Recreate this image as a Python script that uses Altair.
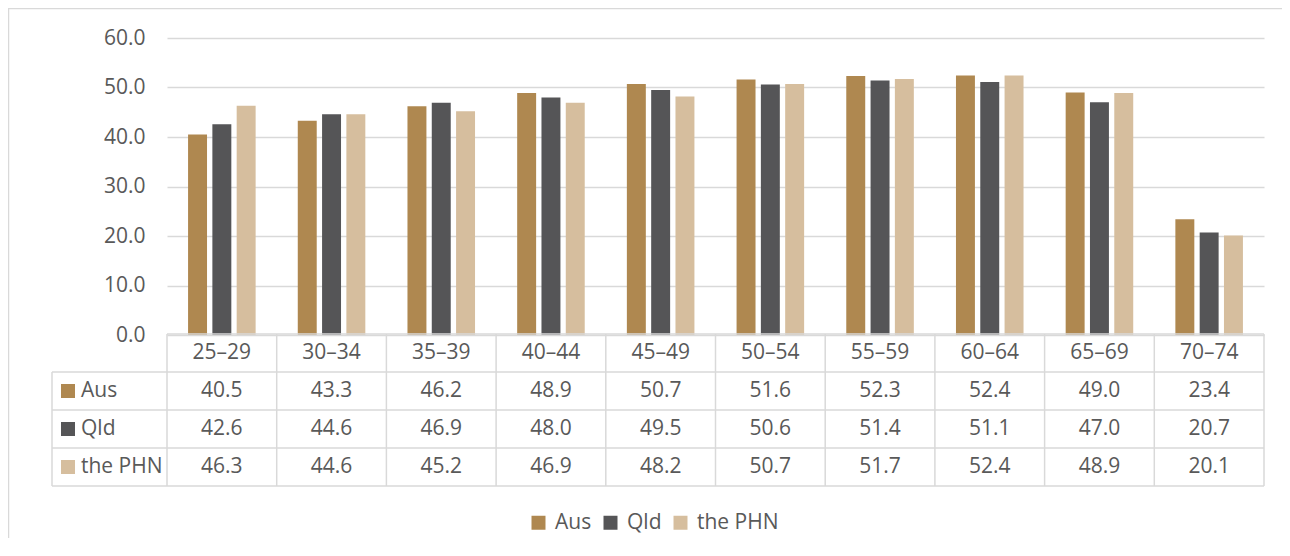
import altair as alt
import pandas as pd

cats = ["25–29", "30–34", "35–39", "40–44", "45–49", "50–54", "55–59", "60–64", "65–69", "70–74"]
series = ["Aus", "Qld", "the PHN"]
aus = [40.5, 43.3, 46.2, 48.9, 50.7, 51.6, 52.3, 52.4, 49.0, 23.4]
qld = [42.6, 44.6, 46.9, 48.0, 49.5, 50.6, 51.4, 51.1, 47.0, 20.7]
phn = [46.3, 44.6, 45.2, 46.9, 48.2, 50.7, 51.7, 52.4, 48.9, 20.1]
colors = ["#AF8850", "#555557", "#D6BE9E"]
y_ticks = [0, 10, 20, 30, 40, 50, 60]

W, H = 1097, 297
TXT = "#595959"
GRID = "#D9D9D9"
FS = 21
PAD_B = 203
PAD_R = 18

rows = []
for s_i, (s, vals) in enumerate(zip(series, [aus, qld, phn])):
    for c, v in zip(cats, vals):
        rows.append({"cat": c, "series": s, "value": v, "row": s_i + 1, "label": f"{v:.1f}"})
df = pd.DataFrame(rows)
hdr = pd.DataFrame({"cat": cats, "row": [0] * len(cats)})
ser = pd.DataFrame({"series": series, "row": [1, 2, 3]})
hlines_top = pd.DataFrame({"b": [-0.5]})
hlines = pd.DataFrame({"b": [0.5, 1.5, 2.5, 3.5]})
vspan = pd.DataFrame({"cat": cats, "y0": [-0.5] * len(cats), "y1": [3.5] * len(cats)})
one = pd.DataFrame({"y0": [-0.5], "y1": [3.5], "y0b": [0.5]})

xenc = alt.X("cat:N", sort=cats, scale=alt.Scale(paddingInner=0, paddingOuter=0), axis=None)
rowscale = alt.Scale(domain=[0, 3], range=[315, 429])
colorenc = alt.Color(
    "series:N", sort=series,
    scale=alt.Scale(domain=series, range=colors),
    legend=alt.Legend(orient="none", legendX=361, legendY=474, direction="horizontal",
                      title=None, symbolType="square", symbolSize=196, labelFontSize=FS,
                      labelColor=TXT, columnPadding=8, labelOffset=6, symbolStrokeWidth=0,
                      padding=0, symbolOpacity=1),
)

frame_top = alt.Chart(pd.DataFrame({"a": [0]})).mark_rule(color=GRID, strokeWidth=1.5).encode(
    x=alt.value(-159), x2=alt.value(W + PAD_R), y=alt.value(-29.5))
frame_left = alt.Chart(pd.DataFrame({"a": [0]})).mark_rule(color=GRID, strokeWidth=1.5).encode(
    x=alt.value(-158.5), y=alt.value(-30), y2=alt.value(H + PAD_B))

bars = alt.Chart(df).mark_bar().encode(
    x=xenc,
    xOffset=alt.XOffset("series:N", sort=series, scale=alt.Scale(paddingInner=0.22, paddingOuter=0.867)),
    y=alt.Y("value:Q", scale=alt.Scale(domain=[0, 60]),
            axis=alt.Axis(values=y_ticks, format=".1f", grid=True, domain=False, ticks=False,
                          labelPadding=22, title=None, gridColor=GRID, gridWidth=1.5,
                          labelFontSize=FS, labelColor=TXT)),
    color=colorenc,
)

h_top = alt.Chart(hlines_top).mark_rule(color=GRID, strokeWidth=1.5).encode(
    x=alt.value(0), x2=alt.value(W), y=alt.Y("b:Q", scale=rowscale, axis=None))
h_rest = alt.Chart(hlines).mark_rule(color=GRID, strokeWidth=1.5).encode(
    x=alt.value(-115), x2=alt.value(W), y=alt.Y("b:Q", scale=rowscale, axis=None))
v_cols = alt.Chart(vspan).mark_rule(color=GRID, strokeWidth=1.5).encode(
    x=alt.X("cat:N", sort=cats, scale=alt.Scale(paddingInner=0, paddingOuter=0), axis=None, bandPosition=0),
    y=alt.Y("y0:Q", scale=rowscale, axis=None), y2="y1:Q")
v_right = alt.Chart(one).mark_rule(color=GRID, strokeWidth=1.5).encode(
    x=alt.value(W), y=alt.Y("y0:Q", scale=rowscale, axis=None), y2="y1:Q")
v_left = alt.Chart(one).mark_rule(color=GRID, strokeWidth=1.5).encode(
    x=alt.value(-115), y=alt.Y("y0b:Q", scale=rowscale, axis=None), y2="y1:Q")

hdr_txt = alt.Chart(hdr).mark_text(fontSize=FS, color=TXT, baseline="middle").encode(
    x=xenc, y=alt.Y("row:Q", scale=rowscale, axis=None), text="cat:N")
val_txt = alt.Chart(df).mark_text(fontSize=FS, color=TXT, baseline="middle").encode(
    x=xenc, y=alt.Y("row:Q", scale=rowscale, axis=None), text="label:N")
ser_txt = alt.Chart(ser).mark_text(fontSize=FS, color=TXT, baseline="middle", align="left").encode(
    x=alt.value(-86), y=alt.Y("row:Q", scale=rowscale, axis=None), text="series:N")
ser_sw = alt.Chart(ser).mark_square(size=196, opacity=1, strokeWidth=0).encode(
    x=alt.value(-99), y=alt.Y("row:Q", scale=rowscale, axis=None), color=colorenc)

chart = alt.layer(
    frame_top, frame_left, bars, h_top, h_rest, v_cols, v_right, v_left,
    hdr_txt, val_txt, ser_sw, ser_txt
).resolve_scale(y="independent").properties(
    width=W, height=H,
    autosize=alt.AutoSizeParams(type="none"),
    padding={"left": 159, "top": 30, "right": PAD_R, "bottom": PAD_B},
    background="white",
).configure(font="Open Sans", view=alt.ViewConfig(stroke=None))

chart.save("out.html", embed_options={"renderer": "svg", "actions": False})
